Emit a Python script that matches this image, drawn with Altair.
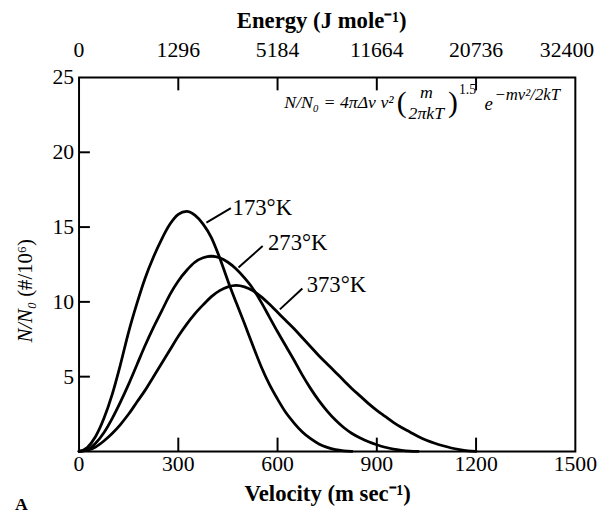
import altair as alt
import pandas as pd

# ---- data ----
v_173 = [0, 25, 50, 75, 100, 125, 150, 175, 200, 225, 250, 275, 300, 325, 350, 375, 400,
         425, 450, 475, 500, 525, 550, 575, 600, 625, 650, 675, 700, 725, 750, 775, 800, 825]
n_173 = [0, 0.27, 1.0, 2.2, 3.8, 5.8, 8.0, 9.9, 11.6, 13.0, 14.2, 15.2, 15.85, 16.05, 15.8,
         15.2, 14.3, 12.95, 11.4, 9.95, 8.55, 7.1, 5.7, 4.5, 3.5, 2.6, 1.9, 1.3, 0.85, 0.5,
         0.27, 0.12, 0.04, 0]

v_273 = [0, 25, 50, 75, 100, 125, 150, 175, 200, 225, 250, 275, 300, 325, 350, 375, 400,
         425, 450, 475, 500, 525, 550, 575, 600, 625, 650, 675, 700, 725, 750, 775, 800,
         825, 850, 875, 900, 925, 950, 975, 1000, 1025]
n_273 = [0, 0.12, 0.55, 1.25, 2.2, 3.3, 4.5, 5.8, 7.1, 8.3, 9.4, 10.5, 11.4, 12.1, 12.65,
         12.95, 13.05, 12.95, 12.65, 12.2, 11.6, 10.9, 10.0, 9.0, 8.0, 7.05, 6.1, 5.1, 4.2,
         3.4, 2.7, 2.1, 1.6, 1.2, 0.9, 0.65, 0.45, 0.28, 0.15, 0.07, 0.02, 0]

v_373 = [0, 25, 50, 75, 100, 125, 150, 175, 200, 225, 250, 275, 300, 325, 350, 375, 400,
         425, 450, 475, 500, 525, 550, 575, 600, 625, 650, 675, 700, 725, 750, 775, 800,
         825, 850, 875, 900, 925, 950, 975, 1000, 1025, 1050, 1075, 1100, 1125, 1150,
         1175, 1200]
n_373 = [0, 0.08, 0.3, 0.7, 1.2, 1.8, 2.5, 3.3, 4.1, 5.0, 5.9, 6.8, 7.7, 8.5, 9.2, 9.8,
         10.35, 10.75, 11.0, 11.1, 11.0, 10.75, 10.35, 9.85, 9.3, 8.75, 8.2, 7.6, 7.0, 6.4,
         5.85, 5.3, 4.75, 4.2, 3.7, 3.2, 2.75, 2.35, 1.95, 1.6, 1.3, 1.0, 0.75, 0.55, 0.38,
         0.23, 0.12, 0.04, 0]

temps = ["173°K", "273°K", "373°K"]

velocity_ticks = [0, 300, 600, 900, 1200, 1500]
inner_ticks = [300, 600, 900, 1200]
energy_labels = ["0", "1296", "5184", "11664", "20736", "32400"]
y_ticks = [5, 10, 15, 20, 25]
y_inner_ticks = [5, 10, 15, 20]

label_v = [464, 571, 688]
label_n = [16.3, 13.95, 11.1]
lead_v1 = [385, 482, 607]
lead_n1 = [15.3, 12.3, 9.5]
lead_v2 = [459, 555, 675]
lead_n2 = [16.27, 13.73, 10.9]

# ---- tables ----
rows = []
for T, vs, ns in zip(temps, [v_173, v_273, v_373], [n_173, n_273, n_373]):
    for v, n in zip(vs, ns):
        rows.append({"T": T, "v": v, "n": n})
df = pd.DataFrame(rows)
lab_df = pd.DataFrame({"T": temps, "v": label_v, "n": label_n})
lead_df = pd.DataFrame({"v": lead_v1, "n": lead_n1, "v2": lead_v2, "n2": lead_n2})
xt_df = pd.DataFrame({"v": inner_ticks})
yt_df = pd.DataFrame({"n": y_inner_ticks})
ylab_df = pd.DataFrame({"n": y_ticks})
xlab_df = pd.DataFrame({"v": velocity_ticks})
top_df = pd.DataFrame({"v": velocity_ticks[:-1], "E": energy_labels[:-1]})
top_last_df = pd.DataFrame({"v": velocity_ticks[-1:], "E": energy_labels[-1:]})
one = pd.DataFrame({"a": [0]})

FONT = "Liberation Serif"
W, H = 503, 379
xs = alt.Scale(domain=[0, 1500], nice=False, zero=False)
ys = alt.Scale(domain=[0, 25], nice=False)
X = alt.X("v:Q", scale=xs, axis=None)
Y = alt.Y("n:Q", scale=ys, axis=None)

frame = alt.Chart(one).mark_rect(
    fill="white", stroke="black", strokeWidth=2).encode(
    x=alt.value(0), x2=alt.value(W), y=alt.value(0), y2=alt.value(H))

curves = alt.Chart(df).mark_line(
    color="black", strokeWidth=2.8, interpolate="monotone", strokeCap="round").encode(
    x=X, y=Y, detail="T:N")

top_ticks = alt.Chart(xt_df).mark_rule(color="black", strokeWidth=2).encode(
    x=X, y=alt.value(0), y2=alt.value(13))

bottom_ticks = alt.Chart(xt_df).mark_rule(color="black", strokeWidth=2).encode(
    x=X, y=alt.value(H), y2=alt.value(H - 14))

left_ticks = alt.Chart(yt_df).mark_rule(color="black", strokeWidth=2).encode(
    y=Y, x=alt.value(0), x2=alt.value(11))

y_labels = alt.Chart(ylab_df).mark_text(
    align="right", baseline="middle", font=FONT, fontSize=22, color="black", dx=-5).encode(
    y=Y, x=alt.value(0), text=alt.Text("n:Q", format="d"))

x_labels = alt.Chart(xlab_df).mark_text(
    align="center", baseline="middle", font=FONT, fontSize=22, color="black").encode(
    x=X, y=alt.value(H + 13), text=alt.Text("v:Q", format="d"))

top_labels = alt.Chart(top_df).mark_text(
    align="center", baseline="middle", font=FONT, fontSize=22, color="black").encode(
    x=X, y=alt.value(-28), text="E:N")
top_label_last = alt.Chart(top_last_df).mark_text(
    align="right", baseline="middle", font=FONT, fontSize=22, color="black", dx=19).encode(
    x=X, y=alt.value(-28), text="E:N")

leaders = alt.Chart(lead_df).mark_rule(color="black", strokeWidth=2).encode(
    x=X, x2="v2:Q", y=Y, y2="n2:Q")

labels = alt.Chart(lab_df).mark_text(
    align="left", baseline="middle", font=FONT, fontSize=23, color="black").encode(
    x=X, y=Y, text="T:N")


def txt(s, x, y, size=17, italic=True, align="left", weight="normal", angle=0):
    kw = dict(align=align, baseline="middle", font=FONT, fontSize=size, color="black",
              fontWeight=weight)
    if italic:
        kw["fontStyle"] = "italic"
    if angle:
        kw["angle"] = angle
    return alt.Chart(one).mark_text(**kw).encode(
        x=alt.value(x), y=alt.value(y), text=alt.value(s))


formula = [
    txt("N/N₀ = 4πΔv v²", 208, 26, size=18),
    txt("(", 322, 26, size=30, italic=False),
    txt("m", 352, 16, size=18, align="center"),
    txt("2πkT", 352, 37, size=18, align="center"),
    txt(")", 374, 26, size=30, italic=False),
    txt("1.5", 385, 13, size=14, italic=False),
    txt("e", 411, 27, size=19),
    txt("−mv²/2kT", 421, 18, size=17),
]

energy_title = txt("Energy (J mole⁻¹)", 246, -57, size=23, italic=False, align="center",
                   weight="bold")
velocity_title = txt("Velocity (m sec⁻¹)", 252, 422, size=23, italic=False,
                     align="center", weight="bold")
ytitle_a = txt("N/N₀", -54, 248, size=21, italic=True, align="center", angle=270)
ytitle_b = txt("(#/10⁶)", -54, 193, size=21, italic=False, align="center", angle=270)
a_label = txt("A", -65, 433, size=18, italic=False, weight="bold")

chart = alt.layer(
    frame, curves, top_ticks, bottom_ticks, left_ticks, y_labels, x_labels, top_labels,
    top_label_last, leaders, labels, *formula, energy_title, velocity_title, ytitle_a,
    ytitle_b, a_label
).properties(
    width=W, height=H,
    autosize=alt.AutoSizeParams(type="none"),
    padding={"left": 72, "top": 67, "right": 24, "bottom": 64},
).configure_view(stroke=None).configure(background="white")

chart.save("out.html", embed_options={"renderer": "svg", "actions": False})
